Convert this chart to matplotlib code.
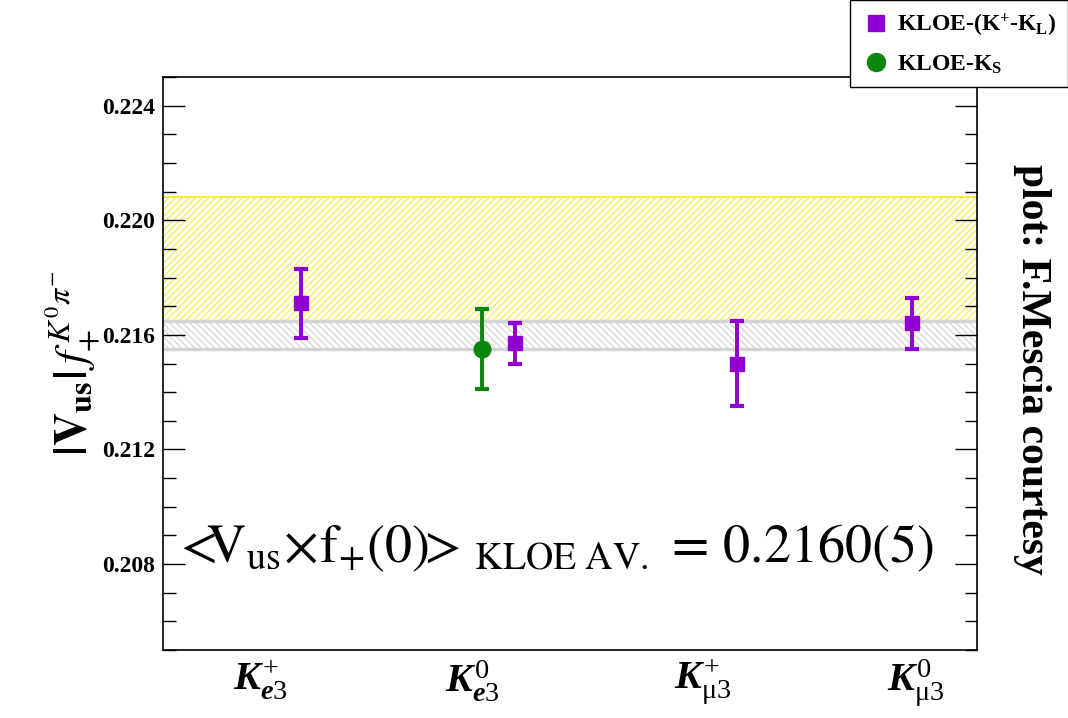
import numpy as np
import matplotlib.pyplot as plt
from matplotlib.lines import Line2D

plt.rcParams['font.family'] = ['Liberation Serif', 'DejaVu Serif']
plt.rcParams['mathtext.fontset'] = 'custom'
plt.rcParams['mathtext.rm'] = 'Liberation Serif'
plt.rcParams['mathtext.it'] = 'Liberation Serif:italic:bold'
plt.rcParams['mathtext.bf'] = 'Liberation Serif:bold'
plt.rcParams['hatch.linewidth'] = 1.0

# categories (channels) and where their labels sit on the x scale
channels = [r'$K^{+}_{\mathit{e3}}$', r'$K^{\mathit{0}}_{\mathit{e3}}$',
            r'$K^{+}_{\mathrm{\mu 3}}$', r'$K^{\mathit{0}}_{\mathrm{\mu 3}}$']
label_x = [0.48, 1.52, 2.65, 3.70]

# KLOE-(K+ - KL) points
kl_x = [0.68, 1.73, 2.82, 3.68]
kl_val = [0.2171, 0.2157, 0.2150, 0.2164]
kl_err = [0.0012, 0.0007, 0.0015, 0.0009]

# KLOE-KS point
ks_x = [1.57]
ks_val = [0.2155]
ks_err = [0.0014]

# bands
avg_lo, avg_hi = 0.2155, 0.2165
band_lo, band_hi = 0.2165, 0.2208

PURPLE = '#9000d0'
GREEN = '#0a870a'

fig = plt.figure(figsize=(10.68, 7.18), dpi=100)
ax = fig.add_axes([0.1526, 0.0947, 0.7622, 0.798])

ax.set_xlim(0, 4)
ax.set_ylim(0.205, 0.225)

# yellow hatched band
ax.axhspan(band_lo, band_hi, facecolor='none', edgecolor='#f4f060', hatch='/' * 5, linewidth=0, zorder=1)
ax.axhline(band_hi, color='#f2ee40', lw=1.5, zorder=2)
ax.axhline(band_lo, color='#f2ee40', lw=1.5, zorder=2)

# gray band = KLOE average
ax.axhspan(avg_lo, avg_hi, facecolor='none', edgecolor='#d8d8d8', hatch='\\' * 5, linewidth=0, zorder=1)
ax.axhline(avg_hi, color='#d4d4d4', lw=2.5, zorder=2)
ax.axhline(avg_lo, color='#d4d4d4', lw=2.5, zorder=2)

ax.errorbar(kl_x, kl_val, yerr=kl_err, fmt='s', color=PURPLE, ms=10, elinewidth=2.8,
            capsize=5, capthick=3, zorder=5)
ax.errorbar(ks_x, ks_val, yerr=ks_err, fmt='o', color=GREEN, ms=12, elinewidth=2.8,
            capsize=5, capthick=3, zorder=5)

ax.set_xticks(label_x)
ax.set_xticklabels(channels, fontsize=29)
ax.tick_params(axis='x', length=0, pad=6)

ax.set_yticks([0.208, 0.212, 0.216, 0.220, 0.224])
ax.set_yticklabels(['0.208', '0.212', '0.216', '0.220', '0.224'], fontsize=17, fontweight='bold')
ax.set_yticks(np.arange(0.205, 0.2251, 0.001), minor=True)
ax.tick_params(axis='y', which='major', direction='in', length=16, width=1, right=True, pad=6)
ax.tick_params(axis='y', which='minor', direction='in', length=9, width=1, right=True)
for s in ax.spines.values():
    s.set_linewidth(1.2)

ax.set_ylabel(r'$\mathbf{|V_{us}|}\,f_{+}^{\,K^{0}\pi^{-}}$', fontsize=33, math_fontfamily='stix', labelpad=0)

ax.text(0.012, 0.153,
        r'$\mathrm{{<}\!\!\!V_{us}}\!\times\!\mathrm{f_{+}(0)\!\!{>}}_{\,\mathrm{KLOE\ AV.}}\,\mathrm{=}\,\mathrm{0.2160(5)}$',
        transform=ax.transAxes, fontsize=39, math_fontfamily='stix', ha='left', va='baseline')

fig.text(0.966, 0.485, 'plot: F.Mescia courtesy', rotation=-90, fontsize=30, fontweight='bold',
         ha='center', va='center')

handles = [Line2D([], [], marker='s', ls='none', color=PURPLE, ms=11),
           Line2D([], [], marker='o', ls='none', color=GREEN, ms=13)]
leg = fig.legend(handles, [r'KLOE-(K$^{\mathbf{+}}$-K$_{\mathbf{L}}$)', r'KLOE-K$_{\mathbf{S}}$'],
                 loc='upper right', bbox_to_anchor=(1.0, 1.0), fancybox=False, framealpha=1,
                 edgecolor='black', borderaxespad=0.0, handletextpad=0.3, handlelength=1.2,
                 prop={'weight': 'bold', 'size': 17}, labelspacing=0.6, borderpad=0.5)
leg.get_frame().set_linewidth(1.0)

fig.savefig('out.png', dpi=100)
